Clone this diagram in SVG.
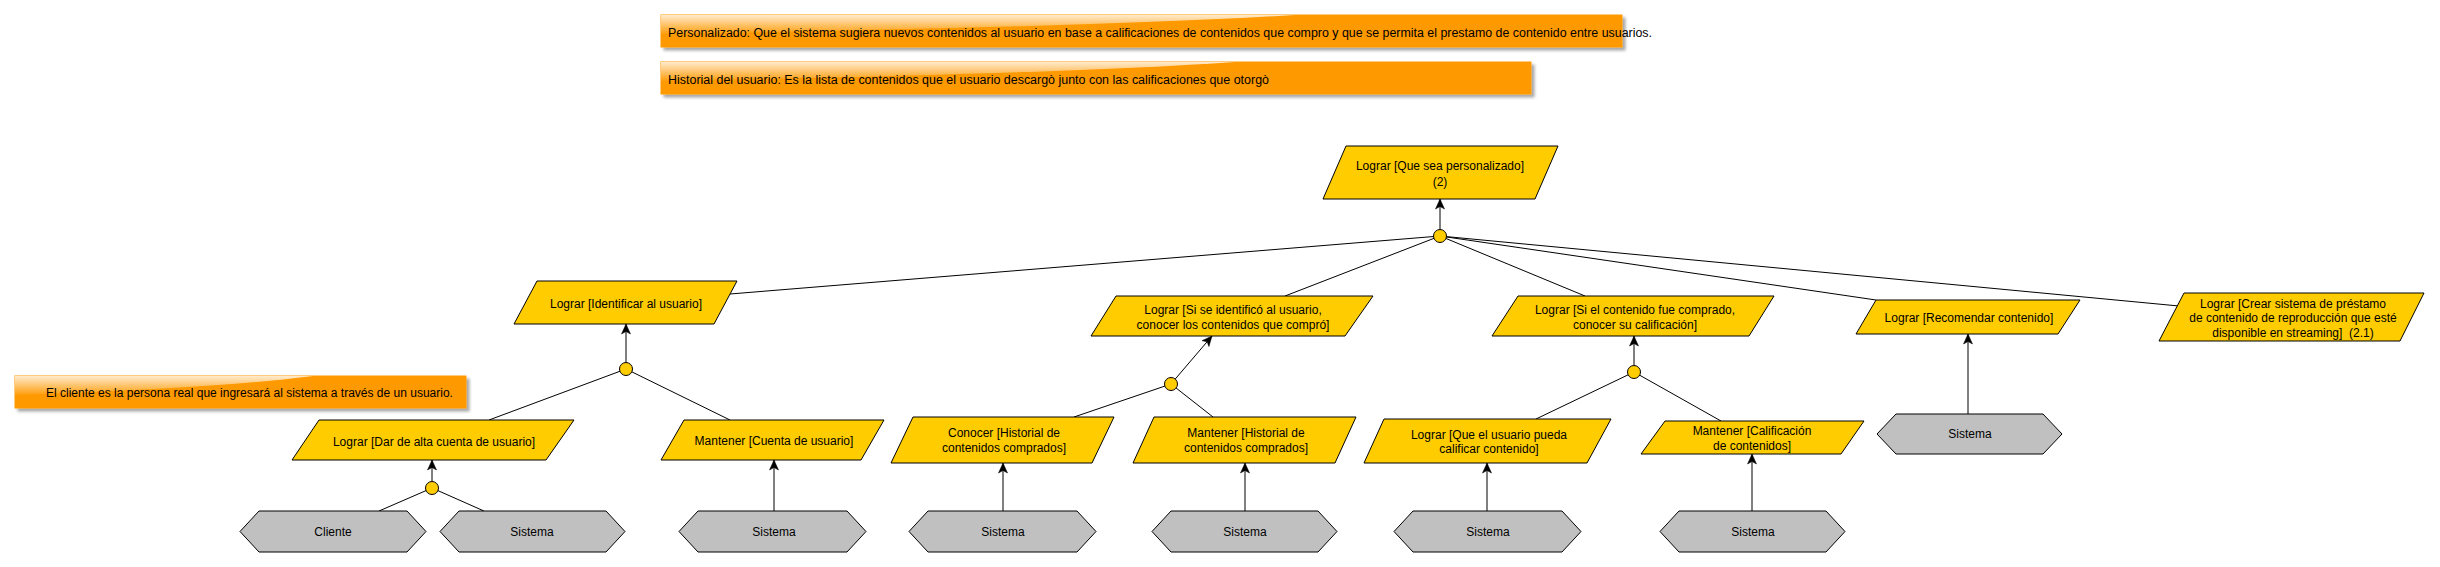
<svg xmlns="http://www.w3.org/2000/svg" width="2440" height="567" viewBox="0 0 2440 567">
<style>
.t{font-family:"Liberation Sans",Arial,sans-serif;font-size:12px;fill:#000;text-anchor:middle}
.ts{font-family:"Liberation Sans",Arial,sans-serif;font-size:12px;fill:#000;text-anchor:start}
.goal{fill:#FFCC00;stroke:#000;stroke-width:1}
.agent{fill:#C0C0C0;stroke:#000;stroke-width:1}
.orn{fill:#FFCC00;stroke:#000;stroke-width:1}
.note{fill:#FF9900;stroke:#FF9900;stroke-width:1}
.gloss{fill:url(#gl);stroke:none}
.ln{fill:none;stroke:#000;stroke-width:1}
.ar{fill:none;stroke:#000;stroke-width:1;marker-end:url(#arr)}
</style>
<defs>
<marker id="arr" markerUnits="userSpaceOnUse" markerWidth="11" markerHeight="10" viewBox="0 0 11 10" refX="10.5" refY="5" orient="auto">
<path d="M0.5,0.5 L10.5,5 L0.5,9.5 L3,5 Z" fill="#000" stroke="#000" stroke-width="0.5"/>
</marker>
<linearGradient id="gl" x1="0" y1="0" x2="0" y2="1">
<stop offset="0" stop-color="#fff" stop-opacity="0.8"/>
<stop offset="1" stop-color="#fff" stop-opacity="0.05"/>
</linearGradient>
<filter id="sh" x="-5%" y="-30%" width="110%" height="180%">
<feGaussianBlur in="SourceAlpha" stdDeviation="1.5"/>
<feOffset dx="3" dy="3" result="o"/>
<feComponentTransfer><feFuncA type="linear" slope="0.35"/></feComponentTransfer>
<feMerge><feMergeNode/><feMergeNode in="SourceGraphic"/></feMerge>
</filter>
</defs>
<rect width="2440" height="567" fill="#fff"/>

<g id="note1">
<rect class="note" x="661" y="15" width="961" height="32" filter="url(#sh)"/>
<path class="gloss" d="M661,15 H1295 Q1100,27 661,34 Z"/>
<text class="ts" x="668" y="37" textLength="984" lengthAdjust="spacingAndGlyphs">Personalizado: Que el sistema sugiera nuevos contenidos al usuario en base a calificaciones de contenidos que compro y que se permita el prestamo de contenido entre usuarios.</text>
</g>
<g id="note2">
<rect class="note" x="661" y="62" width="870" height="32" filter="url(#sh)"/>
<path class="gloss" d="M661,62 H1235 Q1060,74 661,81 Z"/>
<text class="ts" x="668" y="84" textLength="601" lengthAdjust="spacingAndGlyphs">Historial del usuario: Es la lista de contenidos que el usuario descargò junto con las calificaciones que otorgò</text>
</g>
<g id="note3">
<rect class="note" x="15" y="376" width="451" height="32" filter="url(#sh)"/>
<path class="gloss" d="M15,376 H313 Q220,388 15,395 Z"/>
<text class="ts" x="46" y="397">El cliente es la persona real que ingresará al sistema a través de un usuario.</text>
</g>

<g id="connectors">
<path class="ar" d="M1440,229 L1440,199"/>
<path class="ln" d="M1440,236 L730,294"/>
<path class="ln" d="M1440,236 L1285,296"/>
<path class="ln" d="M1440,236 L1585,296"/>
<path class="ln" d="M1440,236 L1876,300"/>
<path class="ln" d="M1440,236 L2179,306"/>
<path class="ar" d="M626,362 L626,324"/>
<path class="ln" d="M626,369 L489,420"/>
<path class="ln" d="M626,369 L730,420"/>
<path class="ar" d="M1171,384 L1212,336"/>
<path class="ln" d="M1171,384 L1074,417"/>
<path class="ln" d="M1171,384 L1213,417"/>
<path class="ar" d="M1634,365 L1634,336"/>
<path class="ln" d="M1634,372 L1536,419"/>
<path class="ln" d="M1634,372 L1721,421"/>
<path class="ar" d="M432,481 L432,460"/>
<path class="ln" d="M432,488 L379,511"/>
<path class="ln" d="M432,488 L484,511"/>
<path class="ar" d="M774,511 L774,460"/>
<path class="ar" d="M1003,511 L1003,463"/>
<path class="ar" d="M1245,511 L1245,463"/>
<path class="ar" d="M1487,511 L1487,463"/>
<path class="ar" d="M1752,511 L1752,454"/>
<path class="ar" d="M1968,414 L1968,334"/>
</g>

<g id="or_top"><circle class="orn" cx="1440" cy="236" r="6.5"/></g>
<g id="or_ident"><circle class="orn" cx="626" cy="369" r="6.5"/></g>
<g id="or_siid"><circle class="orn" cx="1171" cy="384" r="6.5"/></g>
<g id="or_sicont"><circle class="orn" cx="1634" cy="372" r="6.5"/></g>
<g id="or_alta"><circle class="orn" cx="432" cy="488" r="6.5"/></g>

<g id="g_top">
<polygon class="goal" points="1346,146 1558,146 1535,199 1323,199"/>
<text class="t" x="1440" y="170">Lograr [Que sea personalizado]</text>
<text class="t" x="1440" y="186">(2)</text>
</g>
<g id="g_ident">
<polygon class="goal" points="537,281 737,281 714,324 514,324"/>
<text class="t" x="626" y="308">Lograr [Identificar al usuario]</text>
</g>
<g id="g_siid">
<polygon class="goal" points="1116,296 1373,296 1345,336 1091,336"/>
<text class="t" x="1233" y="314">Lograr [Si se identificó al usuario,</text>
<text class="t" x="1233" y="329">conocer los contenidos que compró]</text>
</g>
<g id="g_sicont">
<polygon class="goal" points="1518,296 1774,296 1749,336 1492,336"/>
<text class="t" x="1635" y="314">Lograr [Si el contenido fue comprado,</text>
<text class="t" x="1635" y="329">conocer su calificación]</text>
</g>
<g id="g_recom">
<polygon class="goal" points="1876,300 2080,300 2058,334 1856,334"/>
<text class="t" x="1969" y="322">Lograr [Recomendar contenido]</text>
</g>
<g id="g_crear">
<polygon class="goal" points="2184,293 2424,293 2400,341 2159,341"/>
<text class="t" x="2293" y="308">Lograr [Crear sistema de préstamo</text>
<text class="t" x="2293" y="322">de contenido de reproducción que esté</text>
<text class="t" x="2293" y="337">disponible en streaming]&#160; (2.1)</text>
</g>
<g id="g_alta">
<polygon class="goal" points="319,420 574,420 546,460 292,460"/>
<text class="t" x="434" y="446">Lograr [Dar de alta cuenta de usuario]</text>
</g>
<g id="g_cuenta">
<polygon class="goal" points="684,420 884,420 861,460 661,460"/>
<text class="t" x="774" y="445">Mantener [Cuenta de usuario]</text>
</g>
<g id="g_conocer">
<polygon class="goal" points="913,417 1114,417 1092,463 891,463"/>
<text class="t" x="1004" y="437">Conocer [Historial de</text>
<text class="t" x="1004" y="452">contenidos comprados]</text>
</g>
<g id="g_manthist">
<polygon class="goal" points="1154,417 1356,417 1335,463 1133,463"/>
<text class="t" x="1246" y="437">Mantener [Historial de</text>
<text class="t" x="1246" y="452">contenidos comprados]</text>
</g>
<g id="g_calificar">
<polygon class="goal" points="1384,419 1611,419 1587,463 1364,463"/>
<text class="t" x="1489" y="439">Lograr [Que el usuario pueda</text>
<text class="t" x="1489" y="453">calificar contenido]</text>
</g>
<g id="g_mantcalif">
<polygon class="goal" points="1665,421 1864,421 1841,454 1641,454"/>
<text class="t" x="1752" y="435">Mantener [Calificación</text>
<text class="t" x="1752" y="450">de contenidos]</text>
</g>

<g id="a_cliente">
<polygon class="agent" points="240,531.5 259,511 407,511 426,531.5 407,552 259,552"/>
<text class="t" x="333" y="535.5">Cliente</text>
</g>
<g id="a_sis1">
<polygon class="agent" points="440,531.5 459,511 606,511 625,531.5 606,552 459,552"/>
<text class="t" x="532" y="535.5">Sistema</text>
</g>
<g id="a_sis2">
<polygon class="agent" points="679,531.5 698,511 847,511 866,531.5 847,552 698,552"/>
<text class="t" x="774" y="535.5">Sistema</text>
</g>
<g id="a_sis3">
<polygon class="agent" points="909,531.5 928,511 1077,511 1096,531.5 1077,552 928,552"/>
<text class="t" x="1003" y="535.5">Sistema</text>
</g>
<g id="a_sis4">
<polygon class="agent" points="1152,531.5 1171,511 1318,511 1337,531.5 1318,552 1171,552"/>
<text class="t" x="1245" y="535.5">Sistema</text>
</g>
<g id="a_sis5">
<polygon class="agent" points="1394,531.5 1413,511 1562,511 1581,531.5 1562,552 1413,552"/>
<text class="t" x="1488" y="535.5">Sistema</text>
</g>
<g id="a_sis6">
<polygon class="agent" points="1660,531.5 1679,511 1826,511 1845,531.5 1826,552 1679,552"/>
<text class="t" x="1753" y="535.5">Sistema</text>
</g>
<g id="a_sis7">
<polygon class="agent" points="1877,434 1896,414 2043,414 2062,434 2043,454 1896,454"/>
<text class="t" x="1970" y="438">Sistema</text>
</g>
</svg>
